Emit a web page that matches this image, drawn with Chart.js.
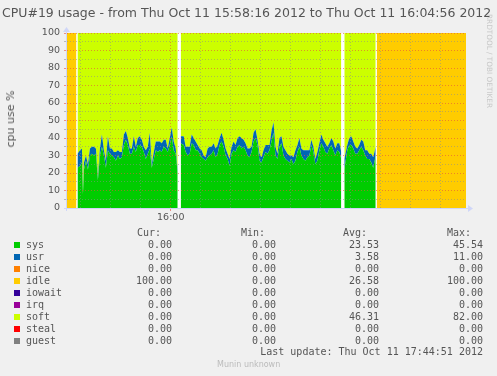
<!DOCTYPE html>
<html>
<head>
<meta charset="utf-8">
<script src="https://cdn.jsdelivr.net/npm/chart.js@4/dist/chart.umd.min.js"></script>
<style>
  body { margin: 0; background: #F0F0F0; width: 497px; height: 376px; overflow: hidden; position: relative; font-family: "DejaVu Sans", sans-serif; color: #555; }
  #grafico { position: absolute; left: 0; top: 0; }
  .txt { position: absolute; white-space: pre; line-height: 12px; }
  .mono { font-family: "DejaVu Sans Mono", monospace; font-size: 10px; }
  .dir { text-align: right; }
  .cx { position: absolute; width: 6px; height: 6px; }
</style>
</head>
<body>
<canvas id="grafico" width="497" height="376"></canvas>
<div id="titulo" class="txt" style="left:2px; top:6px; font-size:12.5px; line-height:14px;">CPU#19 usage - from Thu Oct 11 15:58:16 2012 to Thu Oct 11 16:04:56 2012</div>
<div class="txt" style="left:11px; top:119px; font-size:11px; transform: translate(-50%, -50%) rotate(-90deg);">cpu use %</div>
<div class="txt" style="left:485px; top:14px; font-size:7.3px; color:#c8c8c8; writing-mode: vertical-rl; line-height:8px;">RRDTOOL / TOBI OETIKER</div>
<div class="txt" style="left:217px; top:360px; font-size:8px; color:#bbb; line-height:10px;">Munin unknown</div>
<div id="legenda"></div>
<script>
// segundos desde 15:58:16
const segundos = [0, 9.5, 10, 10.5, 13, 15, 16, 17, 19, 21, 23, 25, 27, 29, 31, 33, 35, 37, 39, 41,
  43, 45, 47, 49, 51, 53, 55, 57, 59, 61, 63, 65, 67, 69, 71, 73, 75, 77, 79, 81,
  83, 85, 87, 89, 91, 93, 95, 97, 99, 101, 103, 105, 107, 109, 111, 112, 114, 117, 119, 121,
  123, 125, 127, 129, 131, 133, 135, 137, 139, 141, 143, 145, 147, 149, 151, 153, 155, 157, 159, 161,
  163, 165, 167, 169, 171, 173, 175, 177, 179, 181, 183, 185, 187, 189, 191, 193, 195, 197, 199, 201,
  203, 205, 207, 209, 211, 213, 215, 217, 219, 221, 223, 225, 227, 229, 231, 233, 235, 237, 239, 241,
  243, 245, 247, 249, 251, 253, 255, 257, 259, 261, 263, 265, 267, 269, 271, 273, 275, 277, 278, 281,
  283, 285, 287, 289, 291, 293, 295, 297, 299, 301, 303, 305, 307, 309.5, 310, 310.5, 400];

const sys = [0, 0, null, 23, 24, 26, 8, 22, 27, 22, 30, 31, 30, 31, 16, 30, 35, 30, 23, 33,
  31, 30, 29, 27, 30, 28, 29, 36, 39, 36, 31, 31, 35, 32, 36, 36, 35, 32, 28, 31,
  34, 23, 28, 33, 32, 33, 32, 35, 34, 32, 36, 41, 33, 31, 20, null, 37, 36, 32, 30,
  31, 37, 36, 33, 33, 31, 29, 28, 27, 29, 30, 31, 33, 29, 31, 36, 38, 35, 30, 28,
  24, 31, 33, 32, 35, 36, 34, 35, 33, 30, 29, 32, 38, 40, 36, 27, 26, 29, 32, 31,
  33, 38, 43, 30, 28, 35, 37, 30, 28, 27, 26, 28, 25, 27, 32, 35, 30, 28, 27, 29,
  30, 36, 32, 25, 27, 33, 37, 35, 32, 31, 34, 36, 33, 30, 33, 32, 28, null, 22, 33,
  36, 36, 34, 31, 31, 33, 35, 33, 30, 28, 28, 26, 23, 30, null, 0, 0];

const usr = [0, 0, null, 8, 9, 8, 1, 4, 3, 3, 4, 4, 5, 3, 2, 4, 7, 3, 4, 8,
  3, 4, 3, 5, 3, 4, 3, 6, 5, 4, 3, 3, 6, 3, 4, 5, 4, 3, 5, 4,
  9, 2, 4, 5, 6, 5, 5, 4, 5, 2, 4, 5, 5, 3, 2, null, 4, 5, 3, 5,
  4, 5, 4, 5, 3, 3, 4, 2, 2, 5, 5, 4, 4, 5, 5, 4, 5, 4, 4, 3,
  4, 4, 5, 4, 5, 5, 6, 4, 4, 4, 5, 3, 5, 5, 3, 4, 3, 4, 4, 5,
  3, 6, 6, 5, 3, 5, 4, 5, 5, 4, 4, 2, 4, 6, 4, 5, 4, 5, 6, 4,
  3, 3, 3, 3, 5, 4, 5, 4, 5, 4, 3, 4, 5, 4, 4, 5, 4, null, 6, 3,
  4, 5, 4, 4, 3, 3, 4, 5, 3, 5, 3, 5, 6, 5, null, 0, 0];

const idle = [100, 100, null, 0, 0, 0, 0, 0, 0, 0, 0, 0, 0, 0, 0, 0, 0, 0, 0, 0,
  0, 0, 0, 0, 0, 0, 0, 0, 0, 0, 0, 0, 0, 0, 0, 0, 0, 0, 0, 0,
  0, 0, 0, 0, 0, 0, 0, 0, 0, 0, 0, 0, 0, 0, 0, null, 0, 0, 0, 0,
  0, 0, 0, 0, 0, 0, 0, 0, 0, 0, 0, 0, 0, 0, 0, 0, 0, 0, 0, 0,
  0, 0, 0, 0, 0, 0, 0, 0, 0, 0, 0, 0, 0, 0, 0, 0, 0, 0, 0, 0,
  0, 0, 0, 0, 0, 0, 0, 0, 0, 0, 0, 0, 0, 0, 0, 0, 0, 0, 0, 0,
  0, 0, 0, 0, 0, 0, 0, 0, 0, 0, 0, 0, 0, 0, 0, 0, 0, null, 0, 0,
  0, 0, 0, 0, 0, 0, 0, 0, 0, 0, 0, 0, 0, 0, null, 100, 100];

const soft = [0, 0, null, 69, 67, 66, 91, 74, 70, 75, 66, 65, 65, 66, 82, 66, 58, 67, 73, 59,
  66, 66, 68, 68, 67, 68, 68, 58, 56, 60, 66, 66, 59, 65, 60, 59, 61, 65, 67, 65,
  57, 75, 68, 62, 62, 62, 63, 61, 61, 66, 60, 54, 62, 66, 78, null, 59, 59, 65, 65,
  65, 58, 60, 62, 64, 66, 67, 70, 71, 66, 65, 65, 63, 66, 64, 60, 57, 61, 66, 69,
  72, 65, 62, 64, 60, 59, 60, 61, 63, 66, 66, 65, 57, 55, 61, 69, 71, 67, 64, 64,
  64, 56, 51, 65, 69, 60, 59, 65, 67, 69, 70, 70, 71, 67, 64, 60, 66, 67, 67, 67,
  67, 61, 65, 72, 68, 63, 58, 61, 63, 65, 63, 60, 62, 66, 63, 63, 68, null, 72, 64,
  60, 59, 62, 65, 66, 64, 61, 62, 67, 67, 69, 69, 71, 65, null, 0, 0];

// grade e rotulos dos eixos
const marcasX = [14, 44, 74, 104, 134, 164, 194, 224, 254, 284, 314, 344, 374];
const rotulosX = ['', '', '', '16:00', '', '', '', '', '', '', '', '', ''];
const marcasY = [0, 5, 10, 15, 20, 25, 30, 35, 40, 45, 50, 55, 60, 65, 70, 75, 80, 85, 90, 95, 100];
const rotulosY = ['0', '', '10', '', '20', '', '30', '', '40', '', '50', '', '60', '', '70', '', '80', '', '90', '', '100'];

// legenda
const nomes = ['sys', 'usr', 'nice', 'idle', 'iowait', 'irq', 'soft', 'steal', 'guest'];
const cores = ['#00CC00', '#0066B3', '#FF8000', '#FFCC00', '#330099', '#990099', '#CCFF00', '#FF0000', '#808080'];
const atual = ['0.00', '0.00', '0.00', '100.00', '0.00', '0.00', '0.00', '0.00', '0.00'];
const minimo = ['0.00', '0.00', '0.00', '0.00', '0.00', '0.00', '0.00', '0.00', '0.00'];
const media = ['23.53', '3.58', '0.00', '26.58', '0.00', '0.00', '46.31', '0.00', '0.00'];
const maximo = ['45.54', '11.00', '0.00', '100.00', '0.00', '0.00', '82.00', '0.00', '0.00'];

function montarLegenda() {
    const el = document.getElementById('legenda');
    let html = '';
    const topo = 227;
    html += `<div class="txt mono" style="left:137px; top:${topo}px">Cur:</div>`;
    html += `<div class="txt mono" style="left:241px; top:${topo}px">Min:</div>`;
    html += `<div class="txt mono" style="left:343px; top:${topo}px">Avg:</div>`;
    html += `<div class="txt mono" style="left:447px; top:${topo}px">Max:</div>`;
    nomes.forEach((nome, i) => {
        const y = topo + 12 * (i + 1);
        html += `<div class="cx" style="left:14px; top:${y + 3}px; background:${cores[i]}"></div>`;
        html += `<div class="txt mono" style="left:26px; top:${y}px">${nome}</div>`;
        html += `<div class="txt mono dir" style="right:${497 - 172}px; top:${y}px">${atual[i]}</div>`;
        html += `<div class="txt mono dir" style="right:${497 - 276}px; top:${y}px">${minimo[i]}</div>`;
        html += `<div class="txt mono dir" style="right:${497 - 379}px; top:${y}px">${media[i]}</div>`;
        html += `<div class="txt mono dir" style="right:${497 - 483}px; top:${y}px">${maximo[i]}</div>`;
    });
    html += `<div class="txt mono dir" style="right:${497 - 483}px; top:${topo + 12 * 10 - 1}px">Last update: Thu Oct 11 17:44:51 2012</div>`;
    el.innerHTML = html;
}

const pontos = serie => segundos.map((t, i) => ({ x: t, y: serie[i] }));

const eixos = {
    id: 'eixos',
    beforeDraw(chart) {
        const { ctx, chartArea: a } = chart;
        ctx.save();
        ctx.fillStyle = '#FFFFFF';
        ctx.fillRect(a.left, a.top, a.right - a.left, a.bottom - a.top);
        ctx.restore();
    },
    afterDraw(chart) {
        const { ctx, chartArea: a } = chart;
        ctx.save();
        ctx.strokeStyle = '#CFD6F8';
        ctx.fillStyle = '#CFD6F8';
        ctx.lineWidth = 1;
        ctx.beginPath();
        ctx.moveTo(a.left - 3, a.bottom + 0.5);
        ctx.lineTo(a.right + 4, a.bottom + 0.5);
        ctx.moveTo(a.left - 0.5, a.bottom + 3);
        ctx.lineTo(a.left - 0.5, a.top - 3);
        ctx.stroke();
        ctx.beginPath();
        ctx.moveTo(a.right + 7, a.bottom + 0.5);
        ctx.lineTo(a.right + 2, a.bottom - 3);
        ctx.lineTo(a.right + 2, a.bottom + 4);
        ctx.closePath();
        ctx.fill();
        ctx.beginPath();
        ctx.moveTo(a.left - 0.5, a.top - 6);
        ctx.lineTo(a.left - 4, a.top - 1);
        ctx.lineTo(a.left + 3, a.top - 1);
        ctx.closePath();
        ctx.fill();
        ctx.restore();
    }
};

const corGradeMaior = 'rgba(230, 80, 60, 0.6)';
const corGradeMenor = 'rgba(140, 140, 140, 0.55)';

function desenhar() {
    const ctx = document.getElementById('grafico').getContext('2d');
    const area = (label, serie, cor, fill) => ({
        label, data: pontos(serie), backgroundColor: cor, borderWidth: 0,
        pointRadius: 0, fill, tension: 0, spanGaps: false
    });
    new Chart(ctx, {
        type: 'line',
        data: {
            datasets: [
                area('sys', sys, '#00CC00', 'origin'),
                area('usr', usr, '#0066B3', '-1'),
                area('idle', idle, '#FFCC00', '-1'),
                area('soft', soft, '#CCFF00', '-1')
            ]
        },
        plugins: [eixos],
        options: {
            responsive: false,
            animation: false,
            devicePixelRatio: 1,
            layout: { padding: { left: 0, right: 31, top: 33, bottom: 148 } },
            plugins: { legend: { display: false }, tooltip: { enabled: false } },
            scales: {
                x: {
                    type: 'linear', min: 0, max: 400,
                    afterFit: s => { s.height = 20; },
                    afterBuildTicks: s => { s.ticks = marcasX.map(v => ({ value: v })); },
                    ticks: {
                        autoSkip: false, maxRotation: 0, padding: 1, color: '#555',
                        font: { family: 'DejaVu Sans', size: 9.5 },
                        callback: v => rotulosX[marcasX.indexOf(v)] || ''
                    },
                    grid: {
                        z: 1,
                        color: c => c.tick && c.tick.value === 104 ? corGradeMaior : corGradeMenor,
                        tickColor: c => c.tick && c.tick.value === 104 ? corGradeMaior : 'rgba(0,0,0,0)',
                        tickLength: 3, lineWidth: 1
                    },
                    border: { display: false, dash: [1, 2] }
                },
                y: {
                    stacked: true, min: 0, max: 100,
                    afterFit: s => { s.width = 67; },
                    afterBuildTicks: s => { s.ticks = marcasY.map(v => ({ value: v })); },
                    ticks: {
                        autoSkip: false, padding: 4, color: '#555',
                        font: { family: 'DejaVu Sans', size: 9.5 },
                        callback: v => rotulosY[marcasY.indexOf(v)]
                    },
                    grid: {
                        z: 1,
                        color: c => c.tick && c.tick.value % 10 === 0 ? corGradeMaior : corGradeMenor,
                        tickColor: c => c.tick && c.tick.value % 10 === 0 ? corGradeMaior : corGradeMenor,
                        tickLength: 3, lineWidth: 1
                    },
                    border: { display: false, dash: [1, 2] }
                }
            }
        }
    });
}

document.addEventListener('DOMContentLoaded', () => {
    montarLegenda();
    desenhar();
});
</script>
</body>
</html>
